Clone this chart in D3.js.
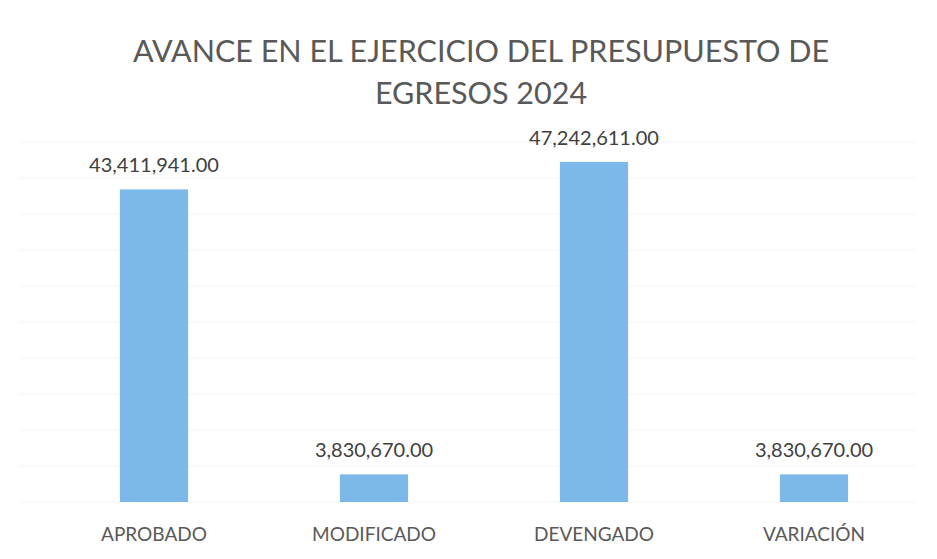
<!DOCTYPE html>
<html>
<head>
<meta charset="utf-8">
<script src="https://cdn.jsdelivr.net/npm/d3@7"></script>
<style>
  body { margin: 0; background: #fff; }
  text { font-family: Lato, "Open Sans", sans-serif; }
</style>
</head>
<body>
<script>
var categories = ["APROBADO", "MODIFICADO", "DEVENGADO", "VARIACIÓN"];
var values = [43411941, 3830670, 47242611, 3830670];
var titleLines = ["AVANCE EN EL EJERCICIO DEL PRESUPUESTO DE", "EGRESOS 2024"];

function init(){
    var w = 937;
    var h = 559;

    var svg = d3.select("body")
                .append("svg")
                .attr("width", w)
                .attr("height", h);

    var xScale = d3.scaleBand()
                   .domain(categories)
                   .range([44, 924])
                   .paddingInner(0.69)
                   .paddingOuter(0.345);

    var yScale = d3.scaleLinear()
                   .domain([0, 50000000])
                   .range([502, 142]);

    // faint gridlines
    svg.append("g")
       .selectAll("line")
       .data(yScale.ticks(10))
       .enter()
       .append("line")
       .attr("x1", 20)
       .attr("x2", 915)
       .attr("y1", function(d) { return yScale(d); })
       .attr("y2", function(d) { return yScale(d); })
       .attr("stroke", "#f4f4f4")
       .attr("stroke-width", 1);

    // title
    svg.append("g")
       .selectAll("text")
       .data(titleLines)
       .enter()
       .append("text")
       .attr("x", 481)
       .attr("y", function(d, i) { return 62 + i * 42; })
       .attr("text-anchor", "middle")
       .attr("font-size", 30.5)
       .attr("fill", "#595959")
       .text(function(d) { return d; });

    // bars
    svg.append("g")
       .selectAll("rect")
       .data(values)
       .enter()
       .append("rect")
       .attr("x", function(d, i) { return xScale(categories[i]); })
       .attr("y", function(d) { return yScale(d); })
       .attr("width", xScale.bandwidth())
       .attr("height", function(d) { return yScale(0) - yScale(d); })
       .attr("fill", "#7db8ea");

    var fmt = d3.format(",.2f");

    // value labels
    svg.append("g")
       .selectAll("text")
       .data(values)
       .enter()
       .append("text")
       .attr("x", function(d, i) { return xScale(categories[i]) + xScale.bandwidth() / 2; })
       .attr("y", function(d) { return yScale(d) - 17; })
       .attr("text-anchor", "middle")
       .attr("font-size", 20)
       .attr("fill", "#404040")
       .text(function(d) { return fmt(d); });

    // category labels
    svg.append("g")
       .selectAll("text")
       .data(categories)
       .enter()
       .append("text")
       .attr("x", function(d) { return xScale(d) + xScale.bandwidth() / 2; })
       .attr("y", 541)
       .attr("text-anchor", "middle")
       .attr("font-size", 19)
       .attr("fill", "#595959")
       .text(function(d) { return d; });
}
window.onload = init;
</script>
</body>
</html>
